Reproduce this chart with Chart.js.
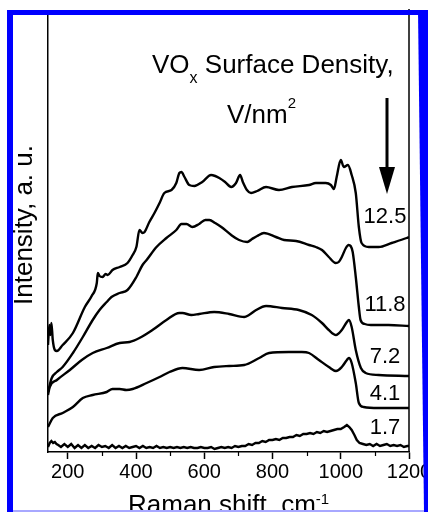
<!DOCTYPE html>
<html>
<head>
<meta charset="utf-8">
<title>Raman spectra</title>
<script src="https://cdn.jsdelivr.net/npm/chart.js@4.4.0/dist/chart.umd.min.js"></script>
<style>
  html, body { margin: 0; padding: 0; background: #fff; }
  canvas { display: block; }
</style>
</head>
<body>
<canvas id="raman" width="428" height="512"></canvas>
<script>
// Raman shift (cm-1) and intensity (a.u., curves stacked with offsets)
const shift125 = [142, 146, 149, 152, 156, 162, 168, 185, 215, 250, 270, 285, 288, 293, 302, 311, 317, 331, 352, 375,
                  390, 401, 410, 419, 425, 439, 454, 469, 483, 504, 518, 527, 533, 542, 556, 571, 594, 620, 632, 644,
                  661, 679, 693, 705, 713, 725, 737, 755, 781, 819, 857, 907, 927, 956, 971, 980, 988, 1000, 1009, 1021,
                  1032, 1044, 1053, 1061, 1082, 1111, 1149, 1193, 1200];
const int125 =   [107, 127, 117, 129, 112, 102, 101, 107, 119, 145, 156, 169, 179, 176, 175, 178, 177, 182, 185, 189,
                  197, 205, 222, 219, 220, 230, 239, 249, 259, 262, 269, 279, 280, 275, 267, 266, 270, 277, 276, 274,
                  270, 265, 269, 277, 270, 262, 259, 261, 265, 262, 265, 267, 269, 269, 267, 263, 275, 292, 285, 287,
                  277, 259, 225, 209, 205, 205, 209, 214, 215];

const shift118 = [142, 153, 168, 185, 215, 244, 273, 293, 314, 328, 352, 375, 401, 419, 431, 460, 489, 518, 533, 548,
                  565, 585, 603, 615, 632, 650, 679, 702, 726, 740, 755, 775, 810, 834, 869, 907, 927, 945, 965, 985,
                  994, 1003, 1015, 1023, 1029, 1035, 1044, 1053, 1058, 1070, 1088, 1140, 1200];
const int118 =   [60, 74, 80, 85, 99, 115, 132, 142, 150, 155, 159, 162, 175, 187, 192, 205, 214, 222, 228, 228,
                  225, 228, 232, 232, 229, 225, 217, 212, 210, 213, 216, 219, 215, 212, 211, 207, 205, 202, 195, 189,
                  190, 195, 204, 207, 206, 200, 175, 145, 132, 128, 127, 127, 126];

const shift72 = [142, 147, 168, 206, 241, 273, 314, 352, 381, 410, 448, 489, 527, 536, 562, 585, 629, 673, 717, 731,
                 752, 781, 828, 877, 915, 945, 965, 986, 1003, 1018, 1024, 1032, 1044, 1059, 1073, 1111, 1200];
const int72 =   [57, 65, 72, 82, 92, 99, 104, 109, 110, 114, 122, 132, 139, 139, 137, 138, 140, 138, 135, 137,
                 142, 146, 144, 142, 137, 129, 122, 117, 122, 130, 132, 125, 102, 84, 79, 77, 76];

const shift41 = [142, 156, 185, 215, 244, 273, 314, 331, 352, 372, 390, 431, 469, 498, 536, 585, 629, 673, 717, 761,
                 790, 848, 886, 907, 936, 965, 986, 1003, 1018, 1024, 1032, 1044, 1053, 1067, 1111, 1200];
const int41 =   [25, 34, 39, 45, 54, 57, 60, 63, 63, 62, 63, 69, 75, 80, 84, 82, 85, 86, 87, 94,
                 99, 100, 100, 99, 92, 85, 81, 85, 92, 94, 89, 69, 49, 45, 44, 44];

const shift17 = [142, 147, 152, 157, 162, 167, 172, 180, 190, 200,
                 210, 220, 230, 240, 250, 260, 270, 280, 290, 300,
                 310, 320, 330, 340, 350, 360, 370, 380, 390, 400,
                 410, 420, 430, 440, 450, 460, 470, 480, 490, 500,
                 510, 520, 530, 540, 550, 560, 570, 580, 590, 600,
                 610, 620, 630, 640, 650, 660, 670, 680, 690, 700,
                 710, 720, 730, 740, 750, 760, 770, 780, 790, 800,
                 810, 820, 830, 840, 850, 860, 870, 880, 890, 900,
                 910, 920, 930, 940, 950, 960, 970, 980, 990, 1000,
                 1010, 1018, 1025, 1032, 1040, 1047, 1055, 1065, 1075, 1085,
                 1095, 1105, 1115, 1125, 1135, 1145, 1155, 1165, 1175, 1185,
                 1195, 1200];
const int17 =   [5, 9, 11, 9, 10, 8, 7, 5, 8, 5,
                 8, 4, 7, 4, 7, 4, 6, 4, 7, 5,
                 6, 4, 7, 4, 6, 4, 6, 4, 5, 6,
                 4, 6, 4, 5, 4, 6, 4, 5, 4, 5,
                 4, 5, 4, 5, 4, 5, 4, 4, 5, 4,
                 4, 5, 3, 4, 5, 4, 5, 4, 6, 5,
                 6, 6, 8, 7, 9, 9, 11, 10, 12, 12,
                 13, 12, 14, 14, 15, 15, 17, 16, 18, 18,
                 19, 18, 20, 19, 21, 20, 21, 22, 23, 23,
                 25, 27, 25, 22, 17, 12, 9, 8, 7, 8,
                 6, 8, 6, 7, 8, 6, 7, 6, 7, 5,
                 6, 6];

// surface density of each spectrum, V/nm2 (top to bottom)
const densities = ['12.5', '11.8', '7.2', '4.1', '1.7'];

const majorTicks = [200, 400, 600, 800, 1000, 1200];
const minorTicks = [300, 500, 700, 900, 1100];

const FONT = '"Liberation Sans", Arial, Helvetica, sans-serif';

const pts = (xs, ys) => xs.map((x, i) => ({ x: x, y: ys[i] }));

function spectrum(xs, ys, smooth) {
  return {
    data: pts(xs, ys),
    borderColor: '#000',
    borderWidth: 2.4,
    pointRadius: 0,
    fill: false,
    cubicInterpolationMode: smooth ? 'monotone' : 'default',
    tension: 0
  };
}

// draws a string made of pieces with their own size and baseline shift
function runs(ctx, parts, x, y) {
  parts.forEach(([t, size, dy]) => {
    ctx.font = size + 'px ' + FONT;
    ctx.fillText(t, x, y + dy);
    x += ctx.measureText(t).width;
  });
}

const decorations = {
  id: 'decorations',
  afterDraw(chart) {
    const { ctx, chartArea: a, scales: { x } } = chart;
    ctx.save();
    ctx.strokeStyle = '#000';
    ctx.fillStyle = '#000';

    // right side of the frame
    ctx.lineWidth = 1.5;
    ctx.beginPath();
    ctx.moveTo(a.right, a.top - 6);
    ctx.lineTo(a.right, a.bottom);
    ctx.stroke();

    // short minor ticks between the labelled ones
    ctx.lineWidth = 1.2;
    minorTicks.forEach(v => {
      const px = Math.round(x.getPixelForValue(v)) + 0.5;
      ctx.beginPath();
      ctx.moveTo(px, a.bottom);
      ctx.lineTo(px, a.bottom + 4);
      ctx.stroke();
    });

    // axis titles
    ctx.textAlign = 'left';
    ctx.textBaseline = 'alphabetic';
    runs(ctx, [['Raman shift, cm', 26, 0], ['-1', 15, -9]], 128, 513);

    ctx.save();
    ctx.translate(32, 225);
    ctx.rotate(-Math.PI / 2);
    ctx.textAlign = 'center';
    ctx.font = '26px ' + FONT;
    ctx.fillText('Intensity, a. u.', 0, 0);
    ctx.restore();

    // note on the surface density, with arrow
    runs(ctx, [['VO', 26, 0], ['x', 16, 10], [' Surface Density,', 26, 0]], 152, 73);
    runs(ctx, [['V/nm', 26, 0], ['2', 15, -15]], 227, 123);

    ctx.fillRect(385.5, 98, 3, 72);
    ctx.beginPath();
    ctx.moveTo(379, 167);
    ctx.lineTo(395, 167);
    ctx.lineTo(387, 194);
    ctx.closePath();
    ctx.fill();

    // density label next to each spectrum
    const labelBase = [223, 311, 363, 400, 434];
    ctx.font = '22px ' + FONT;
    ctx.textAlign = 'center';
    densities.forEach((d, i) => ctx.fillText(d, 385, labelBase[i]));

    // blue frame of the figure
    ctx.fillStyle = '#0000ff';
    ctx.fillRect(7, 10, 421, 5);
    ctx.fillRect(7, 10, 6, 502);
    ctx.beginPath();
    ctx.moveTo(418, 10);
    ctx.lineTo(428, 10);
    ctx.lineTo(428, 512);
    ctx.lineTo(424, 512);
    ctx.closePath();
    ctx.fill();
    ctx.fillStyle = '#a8a8ff';
    ctx.fillRect(13, 510, 411, 2);
    ctx.restore();
  }
};

new Chart(document.getElementById('raman'), {
  type: 'line',
  data: {
    datasets: [
      spectrum(shift125, int125, true),
      spectrum(shift118, int118, true),
      spectrum(shift72, int72, true),
      spectrum(shift41, int41, true),
      spectrum(shift17, int17, false)
    ]
  },
  options: {
    responsive: false,
    animation: false,
    devicePixelRatio: 1,
    events: [],
    layout: { padding: { left: 0, right: 19, top: 15, bottom: 0 } },
    plugins: { legend: { display: false }, tooltip: { enabled: false } },
    scales: {
      x: {
        type: 'linear',
        min: 142,
        max: 1200,
        afterBuildTicks: s => { s.ticks = majorTicks.map(v => ({ value: v })); },
        afterFit: s => { s.height = 60; s.paddingLeft = 0; s.paddingRight = 0; },
        ticks: {
          color: '#000',
          font: { family: FONT, size: 20 },
          padding: 1,
          maxRotation: 0,
          autoSkip: false,
          callback: v => String(v)
        },
        grid: { drawOnChartArea: false, drawTicks: true, tickLength: 7, tickWidth: 1.5, tickColor: '#000' },
        border: { display: true, color: '#000', width: 1.5 }
      },
      y: {
        type: 'linear',
        min: 0,
        max: 437,
        afterFit: s => { s.width = 48; },
        ticks: { display: false },
        grid: { display: false },
        border: { display: true, color: '#000', width: 1.5 }
      }
    }
  },
  plugins: [decorations]
});
</script>
</body>
</html>
